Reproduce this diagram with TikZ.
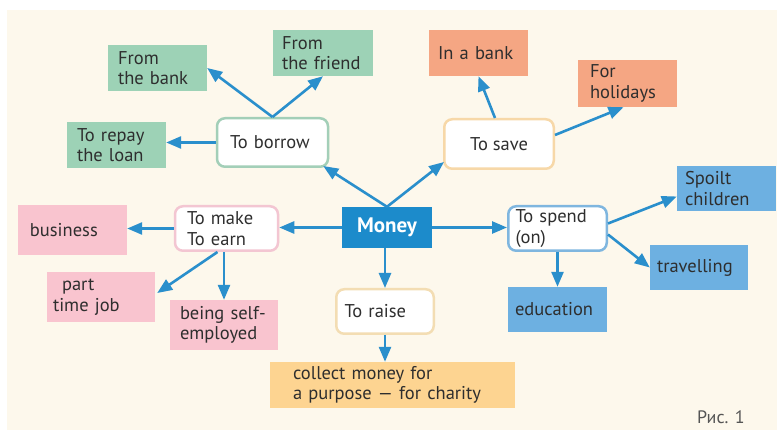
\documentclass[tikz,border=0pt]{standalone}
\usepackage{fontspec}
\setmainfont{PT Sans}
\usetikzlibrary{arrows.meta,calc}
\definecolor{cream}{HTML}{FDF8EC}
\definecolor{cgreen}{HTML}{9DD2B6}
\definecolor{corange}{HTML}{F5A683}
\definecolor{cpink}{HTML}{F9C4CF}
\definecolor{cblue}{HTML}{6DB0E1}
\definecolor{clight}{HTML}{FDD491}
\definecolor{moneyblue}{HTML}{1C8BCB}
\definecolor{arrowblue}{HTML}{2A8FCC}
\definecolor{bgreen}{HTML}{A3CFB8}
\definecolor{bsave}{HTML}{F7D8A8}
\definecolor{bpink}{HTML}{F3C6D2}
\definecolor{braise}{HTML}{F3DDB3}
\definecolor{bspend}{HTML}{7FB6DF}
\definecolor{txt}{HTML}{2E2E2E}
\definecolor{capgray}{HTML}{555555}
\begin{document}
\begin{tikzpicture}[x=1pt,y=-1pt,
  tx/.style={text=txt, font=\fontsize{18.5}{20.5}\selectfont, inner ysep=0pt, anchor=center},
  flat/.style={tx, rectangle, align=left},
  green/.style={flat, fill=cgreen},
  orange/.style={flat, fill=corange},
  pink/.style={flat, fill=cpink},
  blue/.style={flat, fill=cblue},
  light/.style={flat, fill=clight},
  rbox/.style={tx, fill=white, draw=#1, line width=2.5pt, rounded corners=8pt},
  conn/.style={draw=arrowblue, line width=2.6pt, -{Triangle[length=15pt,width=12pt]}}
]
\useasboundingbox (0,0) rectangle (777,430);
\fill[cream] (7,10) rectangle (777,430);

% centre nodes
\node[tx, fill=moneyblue, text=white, font=\fontsize{21}{24}\selectfont\bfseries,
      minimum width=90pt, minimum height=41pt] (money) at (387,227.5) {Money};

% borrow branch
\node[rbox=bgreen, align=left, minimum width=108.5pt, minimum height=48.5pt, inner xsep=13pt, text width=85pt]
  (borrow) at (272.5,142.5) {To~borrow};
\node[green, minimum width=99pt, minimum height=46pt, inner xsep=10pt, text width=79pt]
  (bank) at (157.5,68) {From\\the~bank};
\node[green, minimum width=100pt, minimum height=46pt, inner xsep=9pt, text width=82pt]
  (friend) at (323,53) {From\\the~friend};
\node[green, minimum width=99pt, minimum height=46pt, inner xsep=10pt, text width=79pt]
  (repay) at (116.5,145) {To~repay\\the~loan};

% save branch
\node[rbox=bsave, align=center, minimum width=109.5pt, minimum height=49.5pt]
  (save) at (499,144) {To~save};
\node[orange, minimum width=99pt, minimum height=46pt, inner xsep=9pt, text width=81pt]
  (inbank) at (478.5,53) {In~a~bank};
\node[orange, minimum width=99pt, minimum height=47pt, inner xsep=12pt, text width=75pt]
  (holidays) at (627.5,83.5) {For\\holidays};

% make / earn branch
\node[rbox=bpink, align=left, minimum width=100.5pt, minimum height=44.5pt, inner xsep=12pt, text width=79pt]
  (make) at (226.5,228.5) {To~make\\To~earn};
\node[pink, minimum width=109pt, minimum height=50pt, inner xsep=12pt, text width=85pt]
  (business) at (72.5,230) {business};
\node[pink, minimum width=108pt, minimum height=50pt, inner xsep=6pt, text width=96pt]
  (parttime) at (101,297) {\hspace*{9pt}part\\time~job};
\node[pink, minimum width=108pt, minimum height=50pt, inner xsep=10pt, text width=88pt]
  (selfemp) at (224,325) {being~self-\\employed};

% raise branch
\node[rbox=braise, align=left, minimum width=97.5pt, minimum height=44.5pt, inner xsep=8pt, text width=81pt]
  (raise) at (385,311.5) {To~raise};
\node[light, minimum width=245pt, minimum height=46pt, inner xsep=23pt, text width=199pt]
  (collect) at (392.5,385) {collect~money~for\\a~purpose~—~for~charity};

% spend branch
\node[rbox=bspend, align=left, minimum width=98.5pt, minimum height=44.5pt, inner xsep=7pt, text width=84pt]
  (spend) at (557.5,228.5) {To~spend\\(on)};
\node[blue, minimum width=99pt, minimum height=45pt, inner xsep=8pt, text width=83pt]
  (spoilt) at (726.5,188.5) {Spoilt\\children};
\node[blue, minimum width=98pt, minimum height=45pt, inner xsep=7pt, text width=84pt]
  (travel) at (699,267.5) {travelling};
\node[blue, minimum width=99pt, minimum height=45pt, inner xsep=7pt, text width=85pt]
  (education) at (557.5,309.5) {education};

% caption
\node[anchor=base west, text=capgray, font=\fontsize{18}{20}\selectfont, inner sep=0pt]
  (cap) at (697,424) {Рис. 1};

% connectors
\draw[conn] (borrow.north) -- (bank.east);
\draw[conn] (borrow.north) -- (friend.south);
\draw[conn] (borrow.west) -- (borrow.west -| repay.east);
\draw[conn] (money.north) -- ($(borrow.south east)+(-6,-2)$);
\draw[conn] (money.north) -- ($(save.south west)+(1,-8)$);
\draw[conn] ($(save.north)+(-4,0)$) -- (inbank.south);
\draw[conn] ($(save.east)+(0,-9)$) -- ($(holidays.south)+(-4,0)$);
\draw[conn] (money.west) -- (money.west -| make.east);
\draw[conn] (make.west) -- (make.west -| business.east);
\draw[conn] (selfemp.north |- make.south) -- (selfemp.north);
\draw[conn] ($(make.south)+(-9,0)$) -- ($(parttime.east)+(2,-4)$);
\draw[conn] (raise.north |- money.south) -- (raise.north);
\draw[conn] (raise.south) -- (raise.south |- collect.north);
\draw[conn] (money.east) -- (money.east -| spend.west);
\draw[conn] ($(spend.east)+(0,-5)$) -- ($(spoilt.west)+(0,8)$);
\draw[conn] ($(spend.east)+(0,6)$) -- (travel.west);
\draw[conn] (spend.south) -- (spend.south |- education.north);
\end{tikzpicture}
\end{document}
